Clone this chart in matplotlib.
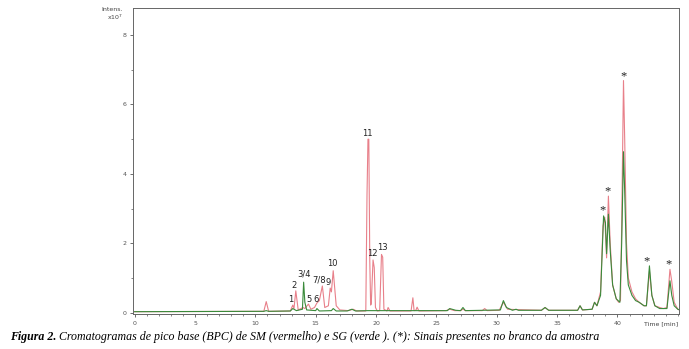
import matplotlib
matplotlib.use("Agg")
import matplotlib.pyplot as plt
from matplotlib.ticker import MultipleLocator

# SM trace (red), time in min, intensity in x10^7
sm_time = [0.0, 10.7, 10.9, 11.1, 12.9, 13.1, 13.2, 13.35, 13.55, 13.95, 14.1, 14.4, 14.6,
           14.9, 15.1, 15.3, 15.55, 15.75, 16.05, 16.2, 16.3, 16.45, 16.7, 17.0, 17.7, 18.1,
           18.4, 19.15, 19.25, 19.33, 19.4, 19.48, 19.55, 19.6, 19.75, 19.85, 19.95, 20.1,
           20.3, 20.45, 20.55, 20.65, 20.9, 21.0, 21.15, 22.9, 23.05, 23.15, 23.3, 23.4,
           23.55, 25.8, 26.1, 26.5, 27.0, 27.2, 27.4, 28.8, 29.0, 29.2, 30.2, 30.55, 30.9,
           31.6, 33.7, 34.0, 34.3, 36.7, 36.9, 37.1, 37.9, 38.1, 38.3, 38.6, 38.8, 38.95,
           39.1, 39.25, 39.4, 39.6, 39.9, 40.1, 40.25, 40.35, 40.5, 40.6, 40.75, 40.9, 41.2,
           41.5, 41.8, 42.2, 42.4, 42.65, 42.85, 43.1, 43.5, 43.8, 44.1, 44.35, 44.5, 44.7,
           45.0, 45.3]
sm_int = [0.03, 0.04, 0.32, 0.04, 0.05, 0.22, 0.12, 0.63, 0.08, 0.15, 0.12, 0.25, 0.10,
          0.15, 0.28, 0.35, 0.77, 0.15, 0.20, 0.71, 0.60, 1.21, 0.20, 0.08, 0.06, 0.10,
          0.05, 0.05, 3.40, 5.00, 5.00, 1.50, 0.22, 0.25, 1.52, 1.30, 0.15, 0.05,
          0.06, 1.68, 1.60, 0.10, 0.05, 0.15, 0.05, 0.05, 0.43, 0.06, 0.07, 0.16,
          0.05, 0.06, 0.10, 0.06, 0.06, 0.10, 0.06, 0.06, 0.12, 0.06, 0.07, 0.30, 0.10,
          0.09, 0.07, 0.15, 0.07, 0.07, 0.20, 0.08, 0.10, 0.30, 0.20, 0.60, 2.50, 2.75,
          1.58, 3.36, 2.00, 0.80, 0.40, 0.30, 0.35, 2.50, 6.69, 5.00, 2.00, 1.00, 0.60,
          0.40, 0.30, 0.20, 0.20, 1.20, 0.50, 0.20, 0.15, 0.12, 0.15, 1.25, 0.90, 0.30,
          0.10, 0.06]

# SG trace (green)
sg_time = [0.0, 10.7, 10.9, 11.1, 12.9, 13.1, 13.4, 13.9, 14.0, 14.1, 14.25, 15.0, 15.1,
           15.3, 16.3, 16.45, 16.7, 17.6, 18.0, 18.3, 19.3, 25.9, 26.1, 26.6, 27.0, 27.2,
           27.4, 30.3, 30.55, 30.8, 31.3, 31.6, 31.8, 33.7, 34.0, 34.3, 36.7, 36.9, 37.1,
           37.9, 38.1, 38.3, 38.6, 38.85, 39.0, 39.1, 39.25, 39.4, 39.6, 39.9, 40.2, 40.35,
           40.5, 40.6, 40.75, 40.9, 41.2, 41.5, 41.8, 42.2, 42.4, 42.65, 42.85, 43.1, 43.5,
           44.1, 44.35, 44.5, 44.7, 45.0, 45.3]
sg_int = [0.03, 0.04, 0.06, 0.04, 0.05, 0.12, 0.06, 0.10, 0.88, 0.30, 0.08, 0.06, 0.12,
          0.05, 0.06, 0.12, 0.05, 0.05, 0.10, 0.05, 0.06, 0.06, 0.12, 0.07, 0.06, 0.15,
          0.06, 0.08, 0.35, 0.15, 0.07, 0.10, 0.07, 0.07, 0.15, 0.07, 0.07, 0.20, 0.08,
          0.10, 0.30, 0.20, 0.50, 2.79, 2.60, 1.70, 2.84, 1.80, 0.80, 0.40, 0.30, 2.00,
          4.64, 3.50, 1.50, 0.80, 0.50, 0.35, 0.30, 0.20, 0.20, 1.35, 0.50, 0.20, 0.12,
          0.12, 0.92, 0.50, 0.20, 0.10, 0.06]

# peak labels
peak_labels = ["1", "2", "3/4", "5", "6", "7/8", "9", "10", "11", "12", "13"]
peak_x = [12.95, 13.2, 14.05, 14.45, 15.0, 15.3, 16.05, 16.35, 19.25, 19.7, 20.5]
peak_y = [0.37, 0.77, 1.13, 0.39, 0.39, 0.94, 0.88, 1.43, 5.17, 1.71, 1.88]

# blank signals (*)
star_x = [38.8, 39.2, 40.5, 42.4, 44.25]
star_y = [2.94, 3.49, 6.8, 1.49, 1.4]

fig = plt.figure(figsize=(6.89, 3.49), dpi=100)
ax = fig.add_axes([0.193, 0.099, 0.7925, 0.878])

ax.plot(sm_time, sm_int, color="#e8808a", lw=0.8, zorder=2)
ax.plot(sg_time, sg_int, color="#3a8a3a", lw=0.8, zorder=3)

for lab, x, y in zip(peak_labels, peak_x, peak_y):
    ax.text(x, y, lab, fontsize=6, ha="center", va="center", color="#222222")
for x, y in zip(star_x, star_y):
    ax.text(x, y, "*", fontsize=9, ha="center", va="center", color="#222222",
            family="Liberation Serif")

ax.set_xlim(-0.14, 45.1)
ax.set_ylim(-0.05, 8.78)
ax.xaxis.set_major_locator(MultipleLocator(5))
ax.xaxis.set_minor_locator(MultipleLocator(1))
ax.yaxis.set_major_locator(MultipleLocator(2))
ax.yaxis.set_minor_locator(MultipleLocator(1))
ax.set_xticks([0, 5, 10, 15, 20, 25, 30, 35, 40])
ax.tick_params(labelsize=4.5, colors="#555555", length=2.5, width=0.6, pad=2)
ax.tick_params(which="minor", length=1.5, width=0.5, colors="#555555")
for s in ax.spines.values():
    s.set_color("#666666")
    s.set_linewidth(0.7)

fig.text(0.179, 0.972, "Intens.", fontsize=4.5, ha="right", va="center", color="#444444")
fig.text(0.179, 0.950, "x10$^7$", fontsize=4.5, ha="right", va="center", color="#444444")
fig.text(0.984, 0.072, "Time [min]", fontsize=4.5, ha="right", va="center", color="#444444")

t1 = fig.text(0.014, 0.034, "Figura 2.", fontsize=8.6, family="Liberation Serif",
              style="italic", weight="bold", va="center")
fig.canvas.draw()
bb = t1.get_window_extent().transformed(fig.transFigure.inverted())
fig.text(bb.x1 + 0.004, 0.034,
         "Cromatogramas de pico base (BPC) de SM (vermelho) e SG (verde ). (*): Sinais presentes no branco da amostra",
         fontsize=8.6, family="Liberation Serif", style="italic", va="center")

fig.savefig("out.png", dpi=100)
